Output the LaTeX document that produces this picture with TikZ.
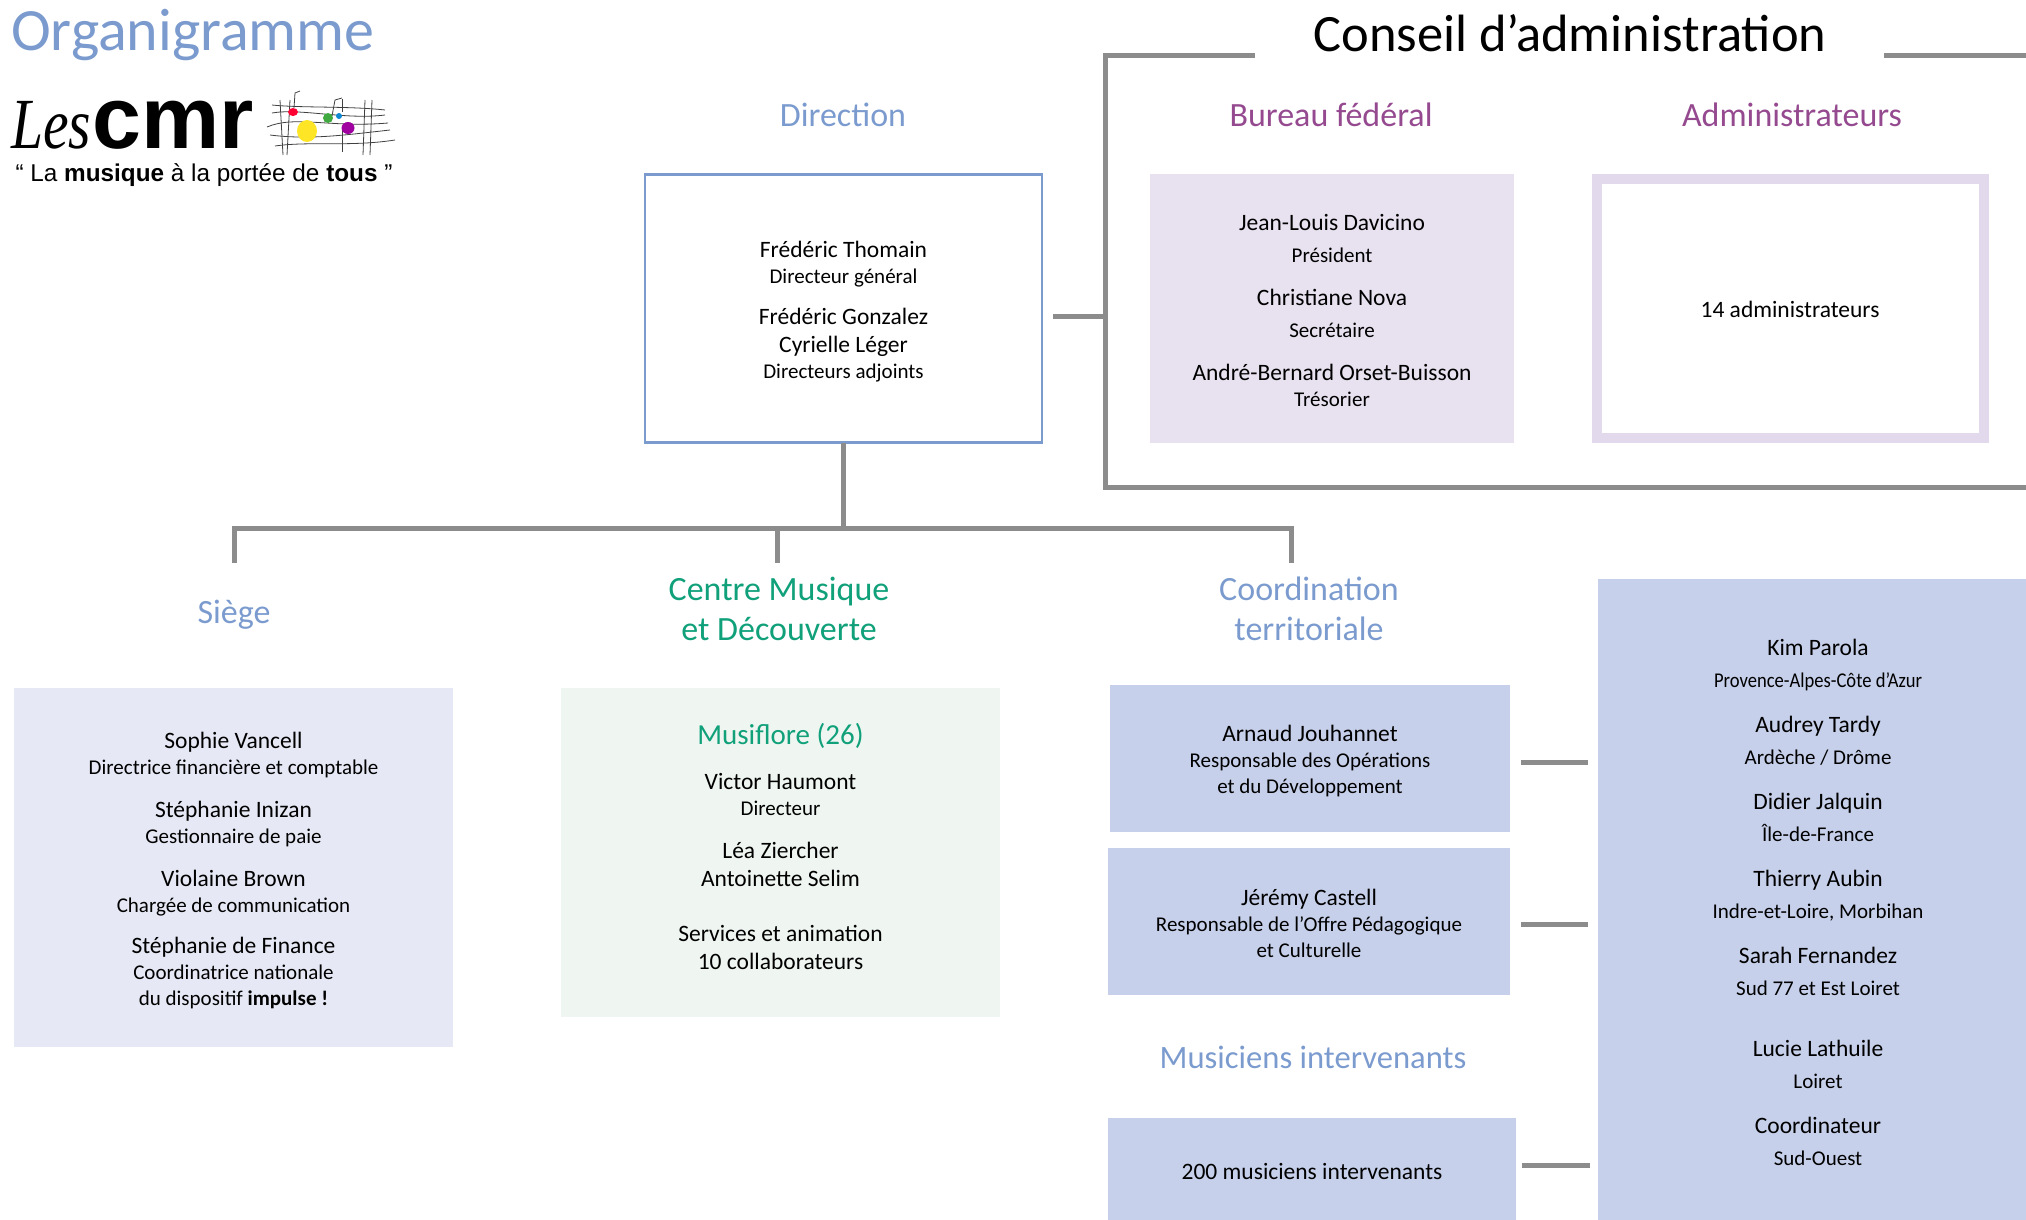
\documentclass[tikz,border=0pt]{standalone}
\usepackage{fontspec}
\setmainfont{Carlito}
\newfontfamily\logosans{Liberation Sans}
\newfontfamily\logoscript{Liberation Serif}
\usepackage{xcolor}
\definecolor{headblue}{HTML}{7B9BCF}
\definecolor{headgreen}{HTML}{10A07A}
\definecolor{headpurple}{HTML}{954A90}
\definecolor{linegray}{HTML}{8C8C8C}
\definecolor{fillsiege}{HTML}{E6E9F5}
\definecolor{fillcentre}{HTML}{EFF6F1}
\definecolor{fillbureau}{HTML}{E8E1F0}
\definecolor{edgeadmin}{HTML}{E3D9EC}
\definecolor{fillterr}{HTML}{C6D0EA}
\newcommand{\rolefont}[1]{{\fontsize{21}{26}\selectfont #1}}
\newcommand{\toppad}[1]{\rule{0pt}{#1pt}}
\tikzset{
  head/.style={font=\fontsize{34}{40}\selectfont,align=center,text=headblue,inner sep=0pt},
  headpurp/.style={head,text=headpurple},
  headgreen/.style={head,text=headgreen},
  card/.style={font=\fontsize{23.5}{26}\selectfont,align=center,inner sep=0pt,outer sep=0pt},
  link/.style={draw=linegray,line width=5pt},
  staff/.style={line width=.8pt,black!75},
}
\begin{document}
\begin{tikzpicture}[x=1pt,y=-1pt]
  \useasboundingbox (0,0) rectangle (2026,1219);
  \node[anchor=west,inner sep=0pt,text=headblue,font=\fontsize{60}{64}\selectfont] (title) at (11,35) {Organigramme};
  \node[anchor=center,inner sep=0pt,font=\fontsize{52.5}{56}\selectfont] (council) at (1570,33) {Conseil d’administration};

  % logo
  \node[anchor=base west,inner sep=0pt,font=\logoscript\itshape\fontsize{72}{72}\selectfont] (logoles) at (11,148) {\scalebox{.8}[1]{Les}};
  \node[anchor=base west,inner sep=0pt,font=\logosans\bfseries\fontsize{88}{88}\selectfont] (logocmr) at (92,148) {cmr};
  \node[anchor=center,inner sep=0pt,font=\logosans\fontsize{24.3}{26}\selectfont] (logotag) at (204,175) {“ La \textbf{musique} à la portée de \textbf{tous} ”};
  \draw[staff] (272,105) .. controls (300,108) and (350,106) .. (385,110);
  \draw[staff] (272,113) .. controls (300,108) and (345,120) .. (385,115);
  \draw[staff] (267,127) .. controls (295,115) and (330,128) .. (388,123);
  \draw[staff] (270,135) .. controls (310,140) and (345,135) .. (390,130);
  \draw[staff] (275,146) .. controls (310,141) and (350,147) .. (395,140);
  \foreach \xa/\xb in {280/283,290/287,365/363,372/370}
    \draw[staff] (\xa,100) -- (\xb,155);
  \draw[staff] (294,108) -- (295,93) -- (300,91);
  \draw[staff] (332,116) -- (335,100) -- (342,98);
  \draw[staff] (342,112) -- (342,99);
  \draw[staff] (342,130) -- (342,152);
  \fill[red!80!magenta] (293,112) ellipse (5 and 4);
  \fill[green!55!black!75] (328,118) ellipse (5 and 5);
  \fill[cyan!70!blue] (339,116) ellipse (3 and 3);
  \fill[yellow!85!orange!85!white] (307,131) ellipse (10 and 11);
  \fill[violet!75!magenta] (348,128) ellipse (6.5 and 6);

  \node[head] (direction) at (843,115) {Direction};
  \node[headpurp] (bureau) at (1331,115) {Bureau fédéral};
  \node[headpurp] (admins) at (1792,115) {Administrateurs};
  \node[head] (siege) at (234,615) {Siège};
  \node[headgreen] (centre) at (779,609) {Centre Musique\\et Découverte};
  \node[head] (coord) at (1309,609) {Coordination\\territoriale};
  \node[head,font=\fontsize{32.6}{40}\selectfont] (musiciens) at (1313,1057) {Musiciens intervenants};

  \node[card,draw=headblue,line width=2.5pt,minimum width=397pt,minimum height=268pt] (dirbox) at (843.5,308.5)
    {\toppad{23}Frédéric Thomain\\\rolefont{Directeur général}\\[15pt]Frédéric Gonzalez\\[2pt]Cyrielle Léger\\\rolefont{Directeurs adjoints}};
  \node[card,fill=fillbureau,minimum width=364pt,minimum height=269pt] (burbox) at (1332,308.5)
    {\toppad{20}Jean-Louis Davicino\\[6pt]\rolefont{Président}\\[17pt]Christiane Nova\\[6pt]\rolefont{Secrétaire}\\[17pt]André-Bernard Orset-Buisson\\\rolefont{Trésorier}};
  \node[card,draw=edgeadmin,line width=10pt,minimum width=387pt,minimum height=259pt] (admbox) at (1790,308.5) {\toppad{18}14 administrateurs};
  \node[card,fill=fillsiege,minimum width=439pt,minimum height=359pt] (siegebox) at (233.5,867.5)
    {\toppad{23}Sophie Vancell\\\rolefont{Directrice financière et comptable}\\[17pt]Stéphanie Inizan\\\rolefont{Gestionnaire de paie}\\[17pt]Violaine Brown\\\rolefont{Chargée de communication}\\[15pt]Stéphanie de Finance\\\rolefont{Coordinatrice nationale}\\\rolefont{du dispositif \textbf{impulse !}}};
  \node[card,fill=fillcentre,minimum width=439pt,minimum height=329pt] (centrebox) at (780.5,852.5)
    {{\fontsize{29}{30}\selectfont\color{headgreen}Musiflore (26)}\\[19pt]Victor Haumont\\\rolefont{Directeur}\\[17pt]Léa Ziercher\\[2pt]Antoinette Selim\\[29pt]Services et animation\\[2pt]10 collaborateurs\\[-14pt]};
  \node[card,fill=fillterr,minimum width=400pt,minimum height=147pt] (arnaud) at (1310,758.5)
    {\toppad{22}Arnaud Jouhannet\\\rolefont{Responsable des Opérations}\\\rolefont{et du Développement}};
  \node[card,fill=fillterr,minimum width=402pt,minimum height=147pt] (jeremy) at (1309,921.5)
    {\toppad{21}Jérémy Castell\\\rolefont{Responsable de l’Offre Pédagogique}\\\rolefont{et Culturelle}};
  \node[card,fill=fillterr,minimum width=408pt,minimum height=105pt] (intervenants) at (1312,1170.5) {\toppad{18}200 musiciens intervenants};
  \node[card,fill=fillterr,minimum width=440pt,minimum height=647pt] (terr) at (1818,902.5)
    {Kim Parola\\[6pt]\rolefont{\scalebox{.885}[1]{Provence-Alpes-Côte d’Azur}}\\[19pt]Audrey Tardy\\[6pt]\rolefont{Ardèche / Drôme}\\[19pt]Didier Jalquin\\[6pt]\rolefont{Île-de-France}\\[19pt]Thierry Aubin\\[6pt]\rolefont{Indre-et-Loire, Morbihan}\\[19pt]Sarah Fernandez\\[6pt]\rolefont{Sud 77 et Est Loiret}\\[35pt]Lucie Lathuile\\[6pt]\rolefont{Loiret}\\[19pt]Coordinateur\\[6pt]\rolefont{Sud-Ouest}};

  \coordinate (frameA) at (1255,55);
  \coordinate (frameB) at (1105,55);
  \coordinate (frameC) at (1105,487);
  \coordinate (frameD) at (2030,487);
  \coordinate (frameE) at (1884,55);
  \coordinate (frameF) at (2030,55);
  \coordinate (stubA) at (1053,316);
  \coordinate (stubB) at (1105,316);
  \coordinate (fork) at (843.5,528);
  \coordinate (forkL) at (234,528);
  \coordinate (forkM) at (777,528);
  \coordinate (forkR) at (1291,528);
  \coordinate (dropL) at (234,563);
  \coordinate (dropM) at (777,563);
  \coordinate (dropR) at (1291,563);

  \draw[link] (frameA) -- (frameB) -- (frameC) -- (frameD);
  \path[link] (frameE) edge (frameF)
    (stubA) edge (stubB)
    (dirbox.south) edge (fork);
  \draw[link] (dropL) -- (forkL) -- (forkR) -- (dropR);
  \path[link] (forkM) edge (dropM);
  \path[link,shorten <=11pt,shorten >=10pt]
    ([yshift=-4pt]arnaud.east) edge ([yshift=-4pt]arnaud.east-|terr.west)
    ([yshift=-2.5pt]jeremy.east) edge ([yshift=-2.5pt]jeremy.east-|terr.west);
  \path[link,shorten <=6pt,shorten >=8pt]
    ([yshift=5.5pt]intervenants.east) edge ([yshift=5.5pt]intervenants.east-|terr.west);
\end{tikzpicture}
\end{document}
